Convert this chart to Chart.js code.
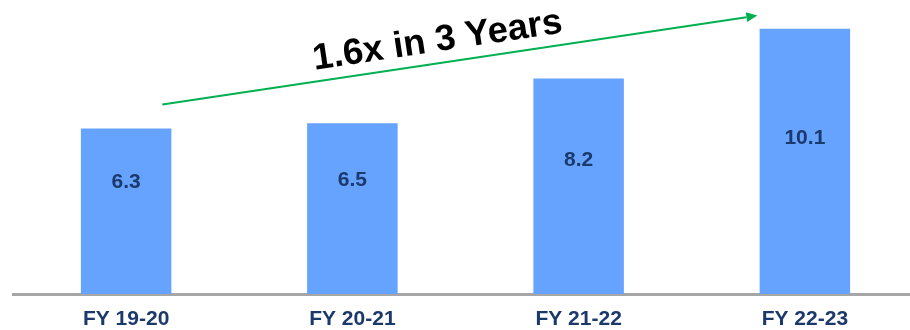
<!DOCTYPE html>
<html>
<head>
<meta charset="utf-8">
<script src="https://cdn.jsdelivr.net/npm/chart.js@4.4.1/dist/chart.umd.min.js"></script>
<style>
  html, body { margin: 0; padding: 0; background: #ffffff; overflow: hidden; }
  #wrap { position: relative; width: 918px; height: 330px; }
</style>
</head>
<body>
<div id="wrap"><canvas id="c" width="918" height="330"></canvas></div>
<script>
// Fiscal years and the value for each year
const years = ['FY 19-20', 'FY 20-21', 'FY 21-22', 'FY 22-23'];
const values = [6.3, 6.5, 8.2, 10.1];

// Growth callout: arrow from/to (category index, value) and its caption
const growthText = '1.6x in 3 Years';
const arrowFrom = [0.16, 7.21];
const arrowTo = [2.79, 10.6];

const BAR = '#66a3ff';
const NAVY = '#1b3a6b';
const GREEN = '#00b050';
const FONT = '"Liberation Sans", Arial, Helvetica, sans-serif';

// Value printed inside each bar, a little above the bar's middle
const valueLabels = {
  id: 'valueLabels',
  afterDatasetsDraw(chart) {
    const ctx = chart.ctx;
    const meta = chart.getDatasetMeta(0);
    ctx.save();
    ctx.font = 'bold 21px ' + FONT;
    ctx.fillStyle = NAVY;
    ctx.textAlign = 'center';
    ctx.textBaseline = 'middle';
    meta.data.forEach((bar, i) => {
      const h = bar.base - bar.y;
      ctx.fillText(values[i].toFixed(1), bar.x, bar.y + 0.555 * h - 38);
    });
    ctx.restore();
  }
};

// Rising arrow with its rotated caption
const growthArrow = {
  id: 'growthArrow',
  afterDraw(chart) {
    const ctx = chart.ctx;
    const xs = chart.scales.x, ys = chart.scales.y;
    const x1 = xs.getPixelForValue(arrowFrom[0]), y1 = ys.getPixelForValue(arrowFrom[1]);
    const x2 = xs.getPixelForValue(arrowTo[0]), y2 = ys.getPixelForValue(arrowTo[1]);
    const ang = Math.atan2(y2 - y1, x2 - x1);
    const head = 11, hw = 5;
    ctx.save();
    ctx.strokeStyle = GREEN;
    ctx.fillStyle = GREEN;
    ctx.lineWidth = 2;
    ctx.beginPath();
    ctx.moveTo(x1, y1);
    ctx.lineTo(x2 - head * Math.cos(ang), y2 - head * Math.sin(ang));
    ctx.stroke();
    ctx.translate(x2, y2);
    ctx.rotate(ang);
    ctx.beginPath();
    ctx.moveTo(0, 0);
    ctx.lineTo(-head, -hw);
    ctx.lineTo(-head, hw);
    ctx.closePath();
    ctx.fill();
    ctx.restore();

    // caption sits just above the arrow shaft
    const t = 0.468;
    const cx = x1 + (x2 - x1) * t, cy = y1 + (y2 - y1) * t;
    ctx.save();
    ctx.translate(cx, cy);
    ctx.rotate(ang);
    ctx.font = 'bold 36.5px ' + FONT;
    ctx.fillStyle = '#000000';
    ctx.textAlign = 'center';
    ctx.textBaseline = 'alphabetic';
    ctx.fillText(growthText, 0, -12);
    ctx.restore();
  }
};

new Chart(document.getElementById('c'), {
  type: 'bar',
  data: {
    labels: years,
    datasets: [{
      data: values,
      backgroundColor: BAR,
      borderWidth: 0,
      barPercentage: 0.4,
      categoryPercentage: 1.0
    }]
  },
  options: {
    responsive: false,
    animation: false,
    events: [],
    layout: { padding: { left: 13, right: 0, top: 5, bottom: 0 } },
    plugins: { legend: { display: false }, tooltip: { enabled: false } },
    scales: {
      x: {
        offset: true,
        grid: { display: false, drawTicks: false },
        border: { display: true, color: '#a6a6a6', width: 3 },
        ticks: {
          color: NAVY,
          padding: 15,
          font: { family: FONT, size: 21, weight: 'bold', lineHeight: 1 }
        },
        // axis band: label gap plus one line of text
        afterFit(scale) { scale.height = 36; }
      },
      y: {
        display: false,
        min: 0,
        max: 11
      }
    }
  },
  plugins: [valueLabels, growthArrow]
});
</script>
</body>
</html>
